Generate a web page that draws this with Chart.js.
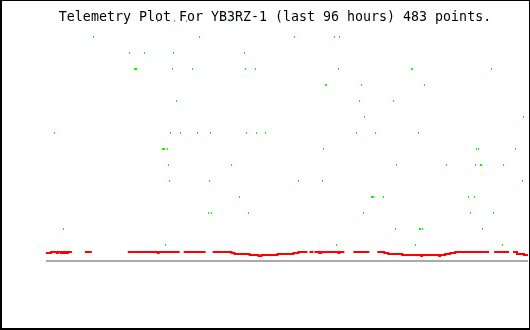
<!DOCTYPE html>
<html><head><meta charset="utf-8">
<script src="https://cdn.jsdelivr.net/npm/chart.js@4/dist/chart.umd.min.js"></script>
<style>html,body{margin:0;padding:0;background:#fff}canvas{display:block}</style>
</head><body>
<canvas id="c" width="530" height="330"></canvas>
<script>
const titleText = 'Telemetry Plot For YB3RZ-1 (last 96 hours) 483 points.';
const pointCount = 483;

// Red series: runs of equal value (sample index start/end, value)
const redStart = [0,5,11,12,15,16,18,19,21,22, 39,82,112,113,138,167,186,189,204,213, 216,232,248,253,264,269,274,276,293,294, 308,332,339,343,357,376,377,394,395,400, 405,410,449,468,472,479];
const redEnd   = [4,10,11,14,15,17,18,20,21,25, 45,111,112,133,159,185,188,203,212,215, 231,247,252,261,267,273,275,292,293,298, 323,338,342,356,375,376,393,394,399,404, 409,443,463,471,478,482];
const redValue = [8,9,8,9,8,9,8,9,8,9, 9,9,8,9,9,9,8,7,6,5, 6,7,8,9,9,9,8,9,8,9, 9,9,8,7,6,5,6,5,6,7, 8,9,9,9,7,6];

// Green series: sample index and value
const greenIndex = [
  111,128,140,184,
  47,153,249,289,294,
  83,98,127,198,
  88,89,90,126,146,199,209,293,366,367,446,
  280,281,316,379,
  130,314,348,
  319,478,
  8,124,134,151,164,200,210,219,311,330,373,
  116,117,118,121,278,431,433,470,
  122,185,351,401,430,435,436,458,
  123,163,253,277,477,
  193,326,327,328,338,423,429,
  162,165,202,318,425,448,
  17,350,374,375,377,437,
  119,291,370,457
];
const greenValue = [
  240,240,240,240,
  224,224,224,224,224,
  208,208,208,208,
  192,192,192,192,192,192,192,192,192,192,192,
  176,176,176,176,
  160,160,160,
  144,144,
  128,128,128,128,128,128,128,128,128,128,128,
  112,112,112,112,112,112,112,112,
  96,96,96,96,96,96,96,96,
  80,80,80,80,80,
  64,64,64,64,64,64,64,
  48,48,48,48,48,48,
  32,32,32,32,32,32,
  16,16,16,16
];

const redData = [];
for (let r = 0; r < redStart.length; r++) {
  if (r > 0 && redStart[r] !== redEnd[r-1] + 1) {
    redData.push({x: (redEnd[r-1] + redStart[r]) / 2, y: null});
  }
  redData.push({x: redStart[r] - 0.5, y: redValue[r]});
  redData.push({x: redEnd[r] + 0.5, y: redValue[r]});
}
const greenData = greenIndex.map((x, i) => ({x: x, y: greenValue[i]}));

function dot(color) {
  const c = document.createElement('canvas');
  c.width = 1; c.height = 2;
  const g = c.getContext('2d');
  g.fillStyle = color; g.fillRect(0, 0, 1, 2);
  return c;
}

const frame = {
  id: 'frame',
  afterDraw(chart) {
    const c = chart.ctx, w = chart.width, h = chart.height;
    c.save();
    c.fillStyle = '#000';
    c.fillRect(0, 0, w, 1);
    c.fillRect(0, 0, 2, h);
    c.fillRect(w - 1, 0, 1, h);
    c.fillRect(0, h - 2, w, 2);
    c.restore();
  }
};

new Chart(document.getElementById('c'), {
  type: 'scatter',
  data: {
    datasets: [
      {label: 'baseline', data: [{x: -0.5, y: 0}, {x: pointCount - 0.5, y: 0}], showLine: true,
       borderColor: '#aaaaaa', borderWidth: 2, pointRadius: 0, clip: false},
      {label: 'red', data: redData, showLine: true, spanGaps: false, tension: 0,
       borderColor: '#ff0000', borderWidth: 2, pointRadius: 0, clip: false},
      {label: 'green', data: greenData, pointStyle: dot('#00ff00'), pointRadius: 1,
       pointHoverRadius: 1, pointBorderWidth: 0, clip: false}
    ]
  },
  options: {
    responsive: false, animation: false, events: [], devicePixelRatio: 1,
    layout: {padding: {left: 20, right: 0, top: 0, bottom: 69}},
    scales: {
      x: {type: 'linear', display: false, min: -26.5, max: 483.5},
      y: {type: 'linear', display: false, min: 0, max: 248}
    },
    plugins: {
      legend: {display: false},
      tooltip: {enabled: false},
      title: {display: true, text: titleText, color: '#000', align: 'center',
        font: {family: '"DejaVu Sans Mono", monospace', size: 13.3, weight: 'normal', lineHeight: '16px'},
        padding: {top: 10, bottom: -13}}
    }
  },
  plugins: [frame]
});
</script>
</body></html>
